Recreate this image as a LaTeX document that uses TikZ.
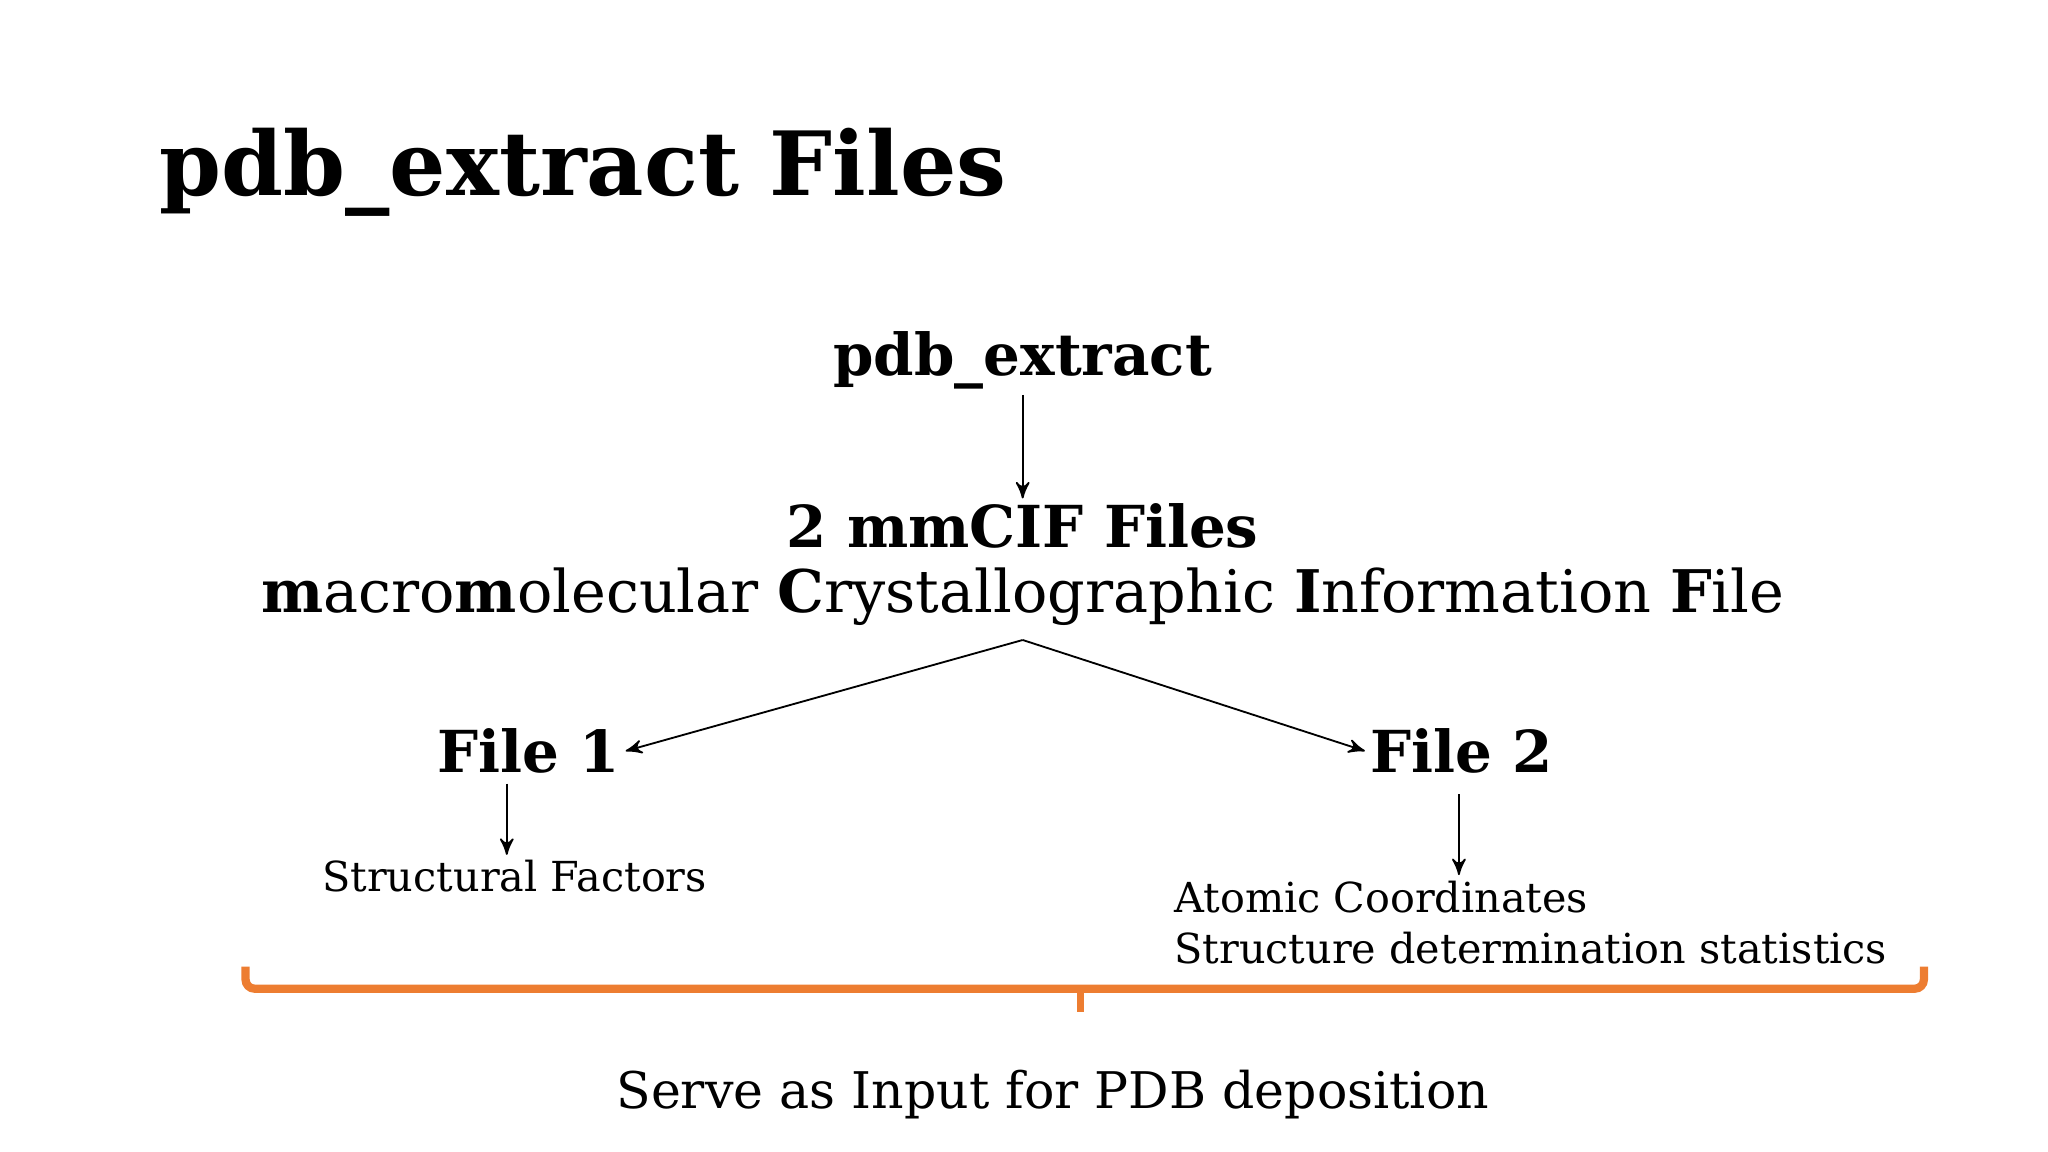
\documentclass[tikz,border=0pt]{standalone}
\usepackage{fontspec}
\setmainfont{DejaVu Serif}
\usetikzlibrary{arrows, calc, positioning}
\definecolor{braceorange}{RGB}{237,125,49}
\tikzset{
>=stealth', % bold arrow heads
every node/.style={inner sep=1pt},
bigtext/.style={font=\bfseries\fontsize{12.6pt}{15pt}\selectfont},
midtext/.style={font=\fontsize{12.8pt}{15pt}\selectfont},
servetext/.style={font=\fontsize{11pt}{13pt}\selectfont},
smalltext/.style={font=\fontsize{9pt}{11.2pt}\selectfont, align=left},
}
\begin{document}
\begin{tikzpicture}[x=0.01cm, y=-0.01cm]
  \useasboundingbox (0,0) rectangle (1568,882);
  % title ------------------------------------------
  \node[anchor=west, font=\bfseries\fontsize{19.3pt}{23pt}\selectfont] (title) at (118,132) {pdb\_extract Files};

  % main column ------------------------------------
  \node[bigtext] (tool) at (783,276) {pdb\_extract};
  \node[bigtext] (mmcif) at (783,403) {2 mmCIF Files};
  \node[midtext] (long) at (783,457) {\textbf{m}acro\textbf{m}olecular \textbf{C}rystallographic \textbf{I}nformation \textbf{F}ile};
  \coordinate (split) at (783,490);

  % the two files ----------------------------------
  \node[bigtext] (file1) at (405,575) {File 1};
  \node[bigtext] (file2) at (1119,575) {File 2};
  \node[smalltext] (sf) at (394,671) {Structural Factors};
  \node[smalltext, anchor=north west] (ac) at (895,670) {Atomic Coordinates\\Structure determination statistics};

  \draw[->] (tool) -- (mmcif);
  \draw[->] (split) -- (file1.east);
  \draw[->] (split) -- (file2.west);
  \draw[->] (388,600) -- (sf.north -| 388,0);
  \draw[->] (1117,608) -- (ac.north -| 1117,0);

  % brace ------------------------------------------
  \draw[braceorange, line width=1.8pt, rounded corners=2pt]
    (188,740) -- (188,757) -- (1473,757) -- (1473,740);
  \draw[braceorange, line width=1.5pt] (827,757) -- (827,775);
  \node[servetext] (serve) at (806,838) {Serve as Input for PDB deposition};
\end{tikzpicture}
\end{document}
